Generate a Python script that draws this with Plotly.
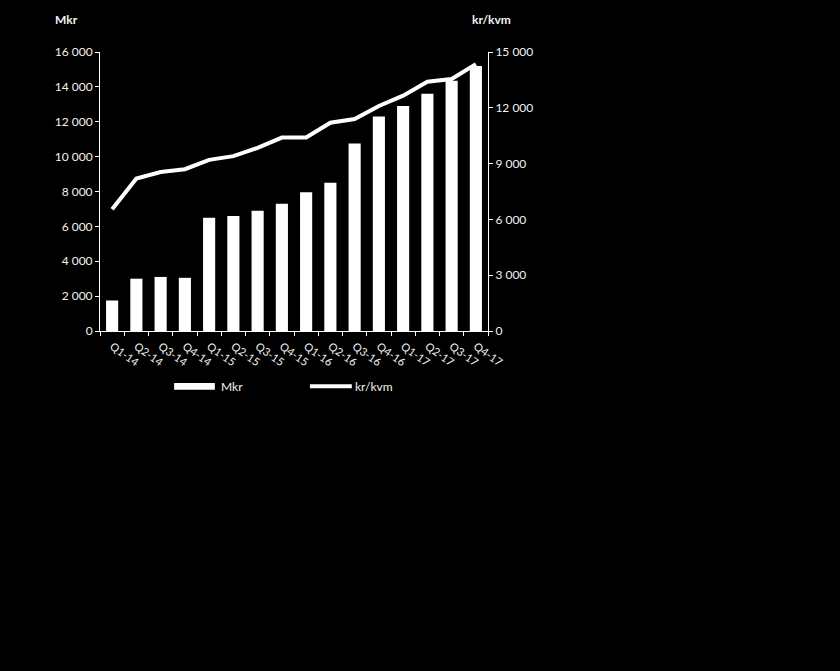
import plotly.graph_objects as go

kvartal = ["Q1-14", "Q2-14", "Q3-14", "Q4-14", "Q1-15", "Q2-15", "Q3-15", "Q4-15",
           "Q1-16", "Q2-16", "Q3-16", "Q4-16", "Q1-17", "Q2-17", "Q3-17", "Q4-17"]
mkr = [1750, 3000, 3100, 3050, 6500, 6600, 6900, 7300,
       7950, 8500, 10750, 12300, 12900, 13600, 14350, 15200]
kr_kvm = [6550, 8200, 8550, 8700, 9200, 9400, 9850, 10400,
          10400, 11200, 11400, 12100, 12650, 13400, 13550, 14350]

left_ticks = [0, 2000, 4000, 6000, 8000, 10000, 12000, 14000, 16000]
right_ticks = [0, 3000, 6000, 9000, 12000, 15000]

def fmt(v):
    # svensk tusentalsavgränsare (mellanslag)
    return f"{v:,}".replace(",", " ")

txt = "#f2f2f2"
font = dict(family="Lato, Open Sans, sans-serif", size=12, color=txt)

fig = go.Figure()
fig.add_trace(go.Bar(x=kvartal, y=mkr, name="Mkr", marker=dict(color="white", line=dict(width=0))))
fig.add_trace(go.Scatter(x=kvartal, y=kr_kvm, name="kr/kvm", yaxis="y2", mode="lines",
                         line=dict(color="white", width=4)))

# egen legend (bred rektangel och bred linje som i originalet)
shapes = [
    dict(type="rect", xref="paper", yref="paper", x0=0.191, x1=0.296, y0=-0.186, y1=-0.211,
         fillcolor="white", line=dict(width=0)),
    dict(type="line", xref="paper", yref="paper", x0=0.541, x1=0.649, y0=-0.198, y1=-0.198,
         line=dict(color="white", width=4)),
]

fig.update_layout(
    width=840, height=671,
    paper_bgcolor="black", plot_bgcolor="black",
    font=font,
    margin=dict(l=100, r=352, t=52, b=340),
    bargap=0.5,
    showlegend=False,
    shapes=shapes,
    xaxis=dict(showgrid=False, showline=True, linecolor="white", linewidth=1,
               ticks="outside", ticklen=4, tickcolor="white", tickson="boundaries",
               tickangle=35, tickfont=dict(size=11), ticklabelstandoff=4),
    yaxis=dict(range=[0, 16000], tickvals=left_ticks, ticktext=[fmt(v) for v in left_ticks],
               showgrid=False, zeroline=False, showline=True, linecolor="white", linewidth=1,
               ticks="outside", ticklen=4, tickcolor="white"),
    yaxis2=dict(range=[0, 15000], tickvals=right_ticks, ticktext=[fmt(v) for v in right_ticks],
                overlaying="y", side="right", showgrid=False, zeroline=False,
                showline=True, linecolor="white", linewidth=1,
                ticks="outside", ticklen=4, tickcolor="white"),
    annotations=[
        dict(text="<b>Mkr</b>", xref="paper", yref="paper", x=-0.122, y=1.115,
             xanchor="left", yanchor="middle", showarrow=False, font=dict(size=12, color=txt)),
        dict(text="<b>kr/kvm</b>", xref="paper", yref="paper", x=0.953, y=1.115,
             xanchor="left", yanchor="middle", showarrow=False, font=dict(size=12, color=txt)),
        dict(text="Mkr", xref="paper", yref="paper", x=0.307, y=-0.198,
             xanchor="left", yanchor="middle", showarrow=False, font=dict(size=12, color=txt)),
        dict(text="kr/kvm", xref="paper", yref="paper", x=0.652, y=-0.198,
             xanchor="left", yanchor="middle", showarrow=False, font=dict(size=12, color=txt)),
    ],
)

fig.write_html("out.html", config={"displayModeBar": False},
               post_script="document.body.style.margin='0';document.body.style.background='black';")
